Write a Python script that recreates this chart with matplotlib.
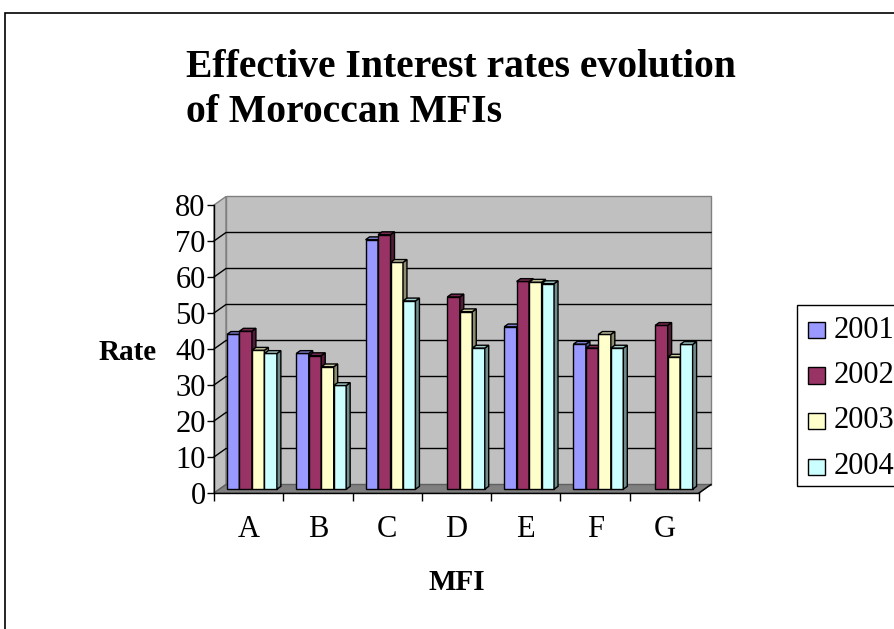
import numpy as np
import matplotlib
matplotlib.use("Agg")
import matplotlib.pyplot as plt
from matplotlib.patches import Polygon, Rectangle
from matplotlib.colors import to_rgb

plt.rcParams['font.family'] = ['Liberation Serif', 'DejaVu Serif']

# Effective interest rates (%) per MFI and year
mfis = ['A', 'B', 'C', 'D', 'E', 'F', 'G']
years = ['2001', '2002', '2003', '2004']
rate_2001 = [43.0, 37.7, 69.3, np.nan, 45.1, 40.3, np.nan]
rate_2002 = [43.9, 37.1, 70.7, 53.4, 57.7, 39.2, 45.5]
rate_2003 = [38.6, 34.0, 63.0, 49.3, 57.5, 43.0, 36.7]
rate_2004 = [37.7, 28.8, 52.3, 39.2, 57.1, 39.2, 40.2]
series = [rate_2001, rate_2002, rate_2003, rate_2004]
colors = ['#9999ff', '#993366', '#ffffcc', '#ccffff']
y_ticks = list(range(0, 81, 10))

W, H = 895, 629
fig = plt.figure(figsize=(W / 100, H / 100), dpi=100)


def fx(x):
    return x / W


def fy(y):
    return 1 - y / H


# outer chart border
fig.patches.append(Rectangle((fx(5), fy(640)), fx(900), fy(13) - fy(640),
                             transform=fig.transFigure, fill=False,
                             edgecolor='black', linewidth=1.2))

# front plane of the 3D box: x 214..699 px, y 493..205 px
ax = fig.add_axes([fx(214), fy(493), (699 - 214) / W, (493 - 205) / H])
ax.set_xlim(0, len(mfis))
ax.set_ylim(0, 80)
ax.patch.set_visible(False)

px_x = len(mfis) / (699 - 214)   # data units per pixel
px_y = 80 / (493 - 205)
DX, DY = 12 * px_x, 8.5 * px_y   # full depth of the box

n = len(mfis)
# left wall
ax.add_patch(Polygon([(0, 0), (DX, DY), (DX, 80 + DY), (0, 80)], closed=True,
                     facecolor='#c0c0c0', edgecolor='#808080', lw=1.0,
                     clip_on=False, zorder=0))
# back wall
ax.add_patch(Polygon([(DX, DY), (n + DX, DY), (n + DX, 80 + DY), (DX, 80 + DY)],
                     closed=True, facecolor='#c0c0c0', edgecolor='#808080',
                     lw=1.0, clip_on=False, zorder=0))
# floor
ax.add_patch(Polygon([(0, 0), (n, 0), (n + DX, DY), (DX, DY)], closed=True,
                     facecolor='#808080', edgecolor='#606060', lw=1.0,
                     clip_on=False, zorder=1))
# gridlines on back and left walls
for v in y_ticks[1:-1]:
    ax.plot([0, DX, n + DX], [v, v + DY, v + DY], color='black', lw=1.0,
            clip_on=False, zorder=1)

# 3D bars
bar_w = 0.18
group_start = 0.11
f_front = 0.45
bx, by = f_front * DX, f_front * DY
dx, dy = 0.33 * DX, 0.33 * DY


def shade(c, k):
    r, g, b = to_rgb(c)
    return (r * k, g * k, b * k)


for i in range(n):
    for j, vals in enumerate(series):
        v = vals[i]
        if np.isnan(v):
            continue
        x0 = i + group_start + j * bar_w + bx
        x1 = x0 + bar_w
        y0 = by
        y1 = by + v
        kw = dict(edgecolor='black', lw=1.0, clip_on=False, zorder=3)
        ax.add_patch(Polygon([(x0, y0), (x1, y0), (x1, y1), (x0, y1)],
                             facecolor=colors[j], **kw))
        ax.add_patch(Polygon([(x1, y0), (x1 + dx, y0 + dy), (x1 + dx, y1 + dy),
                              (x1, y1)], facecolor=shade(colors[j], 0.55), **kw))
        ax.add_patch(Polygon([(x0, y1), (x1, y1), (x1 + dx, y1 + dy),
                              (x0 + dx, y1 + dy)],
                             facecolor=shade(colors[j], 0.8), **kw))

# floor right edge
ax.plot([n, n + DX], [0, DY], color='black', lw=1.0, clip_on=False, zorder=2)

# axes, ticks and labels
for s in ['top', 'right']:
    ax.spines[s].set_visible(False)
for s in ['left', 'bottom']:
    ax.spines[s].set_color('black')
    ax.spines[s].set_linewidth(1.0)
    ax.spines[s].set_zorder(4)

ax.set_yticks(y_ticks)
ax.set_yticklabels([str(t) for t in y_ticks], fontsize=22)
ax.tick_params(axis='y', direction='out', length=5, width=1.0, pad=1)

ax.set_xticks(range(n + 1))
ax.set_xticklabels([])
ax.set_xticks(np.arange(n) + 0.5, minor=True)
ax.set_xticklabels(mfis, minor=True, fontsize=22)
ax.tick_params(axis='x', which='major', direction='out', length=6, width=1.0)
ax.tick_params(axis='x', which='minor', length=0, pad=16)

fig.text(fx(128), fy(352), 'Rate', fontsize=21, fontweight='bold',
         ha='center', va='center')
fig.text(fx(457), fy(583), 'MFI', fontsize=21, fontweight='bold',
         ha='center', va='center')

# title
fig.text(fx(186), fy(77), 'Effective Interest rates evolution', fontsize=28.5,
         fontweight='bold', ha='left', va='baseline')
fig.text(fx(186), fy(122), 'of Moroccan MFIs', fontsize=28.5,
         fontweight='bold', ha='left', va='baseline')

# legend
fig.patches.append(Rectangle((fx(797), fy(486)), fx(900) - fx(797),
                             fy(305) - fy(486), transform=fig.transFigure,
                             facecolor='white', edgecolor='black', lw=1.0))
for j, yr in enumerate(years):
    cy = 330 + j * 45.5
    fig.patches.append(Rectangle((fx(808), fy(cy + 8)), fx(825) - fx(808),
                                 fy(cy - 8) - fy(cy + 8),
                                 transform=fig.transFigure,
                                 facecolor=colors[j], edgecolor='black', lw=1.0))
    fig.text(fx(834), fy(cy), yr, fontsize=22, ha='left', va='center')

fig.savefig('out.png', dpi=100)
